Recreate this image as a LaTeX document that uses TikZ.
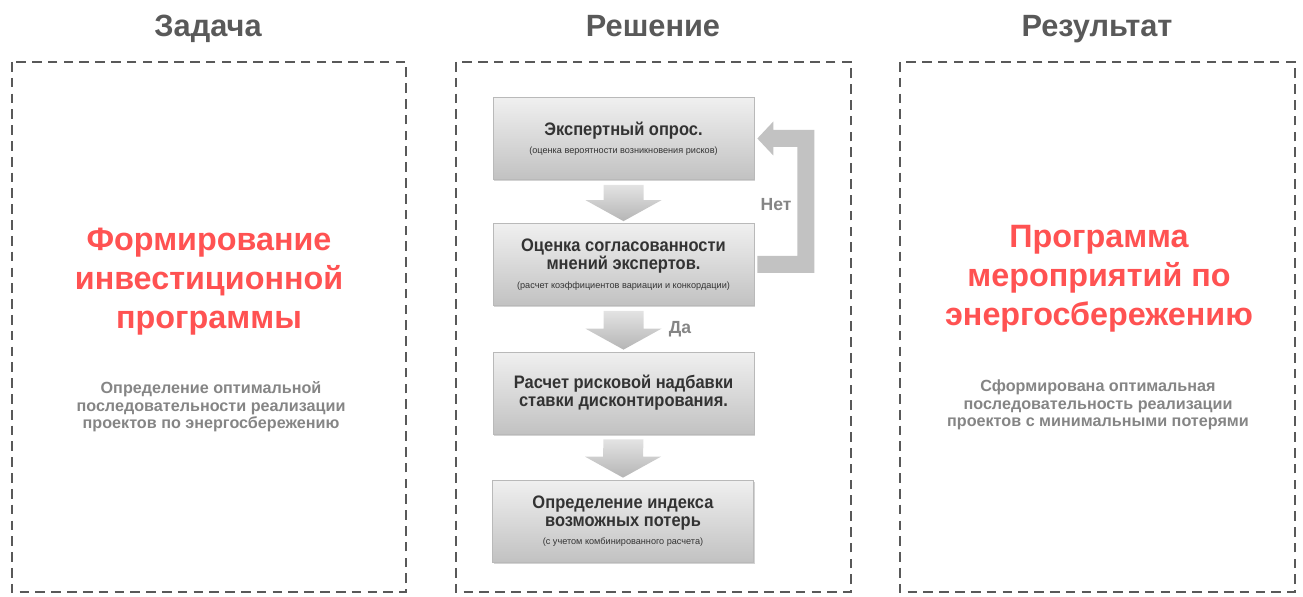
\documentclass[tikz,border=0pt]{standalone}
\usepackage{fontspec}
\setmainfont{Liberation Sans}
\newfontfamily\stepfont[FakeStretch=0.91]{Liberation Sans}
\usetikzlibrary{calc,shadows}

\definecolor{titlegrey}{HTML}{595959}
\definecolor{framegrey}{HTML}{595959}
\definecolor{headred}{HTML}{FF5252}
\definecolor{notegrey}{HTML}{858585}
\definecolor{boxtext}{HTML}{333333}
\definecolor{loopgrey}{HTML}{C2C2C2}

\newcommand{\boxnote}[1]{\\[0pt]{\rmfamily\fontsize{5.2}{6}\selectfont\mdseries #1}}

\tikzset{
  coltitle/.style={font=\fontsize{17.5}{20}\selectfont\bfseries, text=titlegrey, anchor=base},
  frame/.style={draw=framegrey, line width=1.2pt, dash pattern=on 5.5pt off 3.5pt},
  headline/.style={font=\fontsize{18.4}{22.2}\selectfont\bfseries, text=headred, align=center},
  note/.style={font=\fontsize{9.2}{10}\selectfont\bfseries, text=notegrey, align=center},
  branch/.style={font=\fontsize{10}{12}\selectfont\bfseries, text=notegrey},
  stepbox/.style={rectangle, minimum width=5.22cm, minimum height=1.64cm, inner sep=0pt,
    top color=gray!12, bottom color=gray!48, draw=gray!55, line width=0.4pt,
    drop shadow={opacity=0.35, shadow xshift=0.6pt, shadow yshift=-1pt},
    align=center, text=boxtext, font=\stepfont\fontsize{10.3}{10.4}\selectfont\bfseries},
  arrowfill/.style={top color=gray!22, bottom color=gray!58}
}

\begin{document}
\begin{tikzpicture}[x=0.02cm, y=-0.02cm]
\useasboundingbox (0,0) rectangle (1303,597);

% column titles and frames
\node[coltitle] (tTask) at (208,37) {Задача};
\node[coltitle] (tSolve) at (653,37) {Решение};
\node[coltitle] (tResult) at (1097,37) {Результат};
\draw[frame] (12,62) rectangle (406,592);
\draw[frame] (456,62) rectangle (851,592);
\draw[frame] (900,62) rectangle (1295,592);

% task column
\node[headline] (hTask) at (209,282) {Формирование\\инвестиционной\\программы};
\node[note] (nTask) at (211,407) {Определение оптимальной\\последовательности реализации\\проектов по энергосбережению};

% result column
\node[headline] (hResult) at (1099,279) {Программа\\мероприятий по\\энергосбережению};
\node[note] (nResult) at (1098,405) {Сформирована оптимальная\\последовательность реализации\\проектов с минимальными потерями};

% solution steps
\node[stepbox] (b1) at (623.5,138.5) {Экспертный опрос.\boxnote{(оценка вероятности возникновения рисков)}};
\node[stepbox] (b2) at (623.5,264.5) {Оценка согласованности\\мнений экспертов.\boxnote{(расчет коэффициентов вариации и конкордации)}};
\node[stepbox] (b3) at (623.5,393) {Расчет рисковой надбавки\\ставки дисконтирования.};
\node[stepbox] (b4) at (623,521) {Определение индекса\\возможных потерь\boxnote{(с учетом комбинированного расчета)}};

% block arrows between steps
\foreach \a/\b in {b1/b2, b2/b3, b3/b4} {
  \shade[arrowfill] ($(\a.south)+(-20,5)$) -- ($(\a.south)+(20,5)$) -- ($(\b.north)+(20,-23)$)
    -- ($(\b.north)+(38,-23)$) -- ($(\b.north)+(0,-2)$) -- ($(\b.north)+(-38,-23)$)
    -- ($(\b.north)+(-20,-23)$) -- cycle;
}

% feedback loop back to the survey
\fill[loopgrey] ($(b2.east)+(3,-8.5)$) -- ($(b2.east)+(43,-8.5)$) -- ($(b1.east)+(43,8.5)$)
  -- ($(b1.east)+(19,8.5)$) -- ($(b1.east)+(19,17)$) -- ($(b1.east)+(3,0)$)
  -- ($(b1.east)+(19,-17)$) -- ($(b1.east)+(19,-8.5)$) -- ($(b1.east)+(60,-8.5)$)
  -- ($(b2.east)+(60,8.5)$) -- ($(b2.east)+(3,8.5)$) -- cycle;
\node[branch] (no) at (776,205) {Нет};
\node[branch] (yes) at (680,329) {Да};

\end{tikzpicture}
\end{document}
